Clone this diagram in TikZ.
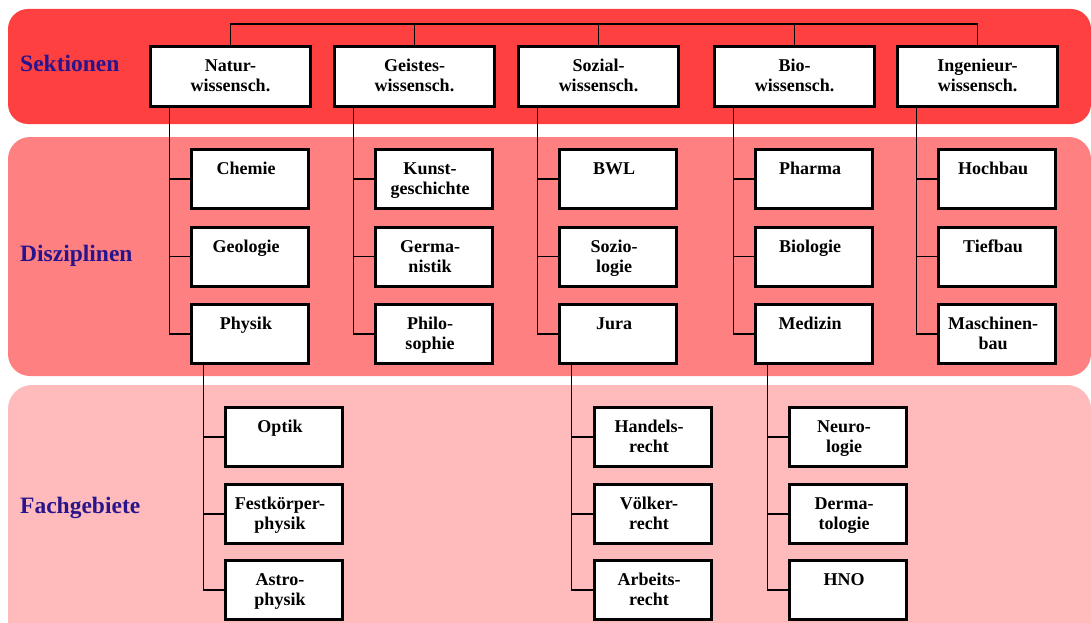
\documentclass[tikz,border=0pt]{standalone}
\usepackage{fontspec}
\setmainfont{Liberation Serif}
\usetikzlibrary{calc}
\definecolor{bandA}{RGB}{255,64,64}
\definecolor{bandB}{RGB}{255,128,128}
\definecolor{bandC}{RGB}{255,187,187}
\definecolor{lvl}{RGB}{40,20,140}
\newcommand{\boxtxt}[3]{\parbox[c][#2pt][t]{#1pt}{\centering\rule{0pt}{25pt}#3}}
\newcommand{\TopTxt}[1]{\boxtxt{160}{60}{#1}}
\newcommand{\SubTxt}[1]{\makebox[117pt][l]{\boxtxt{109}{59}{#1}}}
\begin{document}
\begin{tikzpicture}[x=1pt,y=-1pt,
  lvlabel/.style={font=\fontsize{23.5}{26}\selectfont\bfseries, text=lvl, anchor=base west, inner sep=0pt},
  boxbase/.style={draw=black, line width=3pt, fill=white, inner sep=0pt, outer sep=1.5pt, anchor=north west, font=\fontsize{18}{20}\selectfont\bfseries},
  conn/.style={line width=1.8pt, draw=black}]
\useasboundingbox (0,0) rectangle (1091,623);
% bands
\fill[bandA, rounded corners=20pt] (8,9) rectangle (1091,124);
\fill[bandB, rounded corners=22pt] (8,137) rectangle (1091,376);
\fill[bandC, rounded corners=24pt] (8,385) rectangle (1091,660);
% level labels
\node[lvlabel] (lab1) at (20,72) {Sektionen};
\node[lvlabel] (lab2) at (20,261) {Disziplinen};
\node[lvlabel] (lab3) at (20,513) {Fachgebiete};
% level 1
\node[boxbase] (n1) at (149,45) {\TopTxt{Natur-\\wissensch.}};
\node[boxbase] (n2) at (333,45) {\TopTxt{Geistes-\\wissensch.}};
\node[boxbase] (n3) at (517,45) {\TopTxt{Sozial-\\wissensch.}};
\node[boxbase] (n4) at (713,45) {\TopTxt{Bio-\\wissensch.}};
\node[boxbase] (n5) at (896,45) {\TopTxt{Ingenieur-\\wissensch.}};
% level 2
\node[boxbase] (a1) at (190,148) {\SubTxt{Chemie}};
\node[boxbase] (a2) at (190,225.5) {\SubTxt{Geologie}};
\node[boxbase] (a3) at (190,303) {\SubTxt{Physik}};
\node[boxbase] (b1) at (374,148) {\SubTxt{Kunst-\\geschichte}};
\node[boxbase] (b2) at (374,225.5) {\SubTxt{Germa-\\nistik}};
\node[boxbase] (b3) at (374,303) {\SubTxt{Philo-\\sophie}};
\node[boxbase] (c1) at (558,148) {\SubTxt{BWL}};
\node[boxbase] (c2) at (558,225.5) {\SubTxt{Sozio-\\logie}};
\node[boxbase] (c3) at (558,303) {\SubTxt{Jura}};
\node[boxbase] (d1) at (754,148) {\SubTxt{Pharma}};
\node[boxbase] (d2) at (754,225.5) {\SubTxt{Biologie}};
\node[boxbase] (d3) at (754,303) {\SubTxt{Medizin}};
\node[boxbase] (e1) at (937,148) {\SubTxt{Hochbau}};
\node[boxbase] (e2) at (937,225.5) {\SubTxt{Tiefbau}};
\node[boxbase] (e3) at (937,303) {\SubTxt{Maschinen-\\bau}};
% level 3
\node[boxbase] (p1) at (224,406) {\SubTxt{Optik}};
\node[boxbase] (p2) at (224,483) {\SubTxt{Festkörper-\\physik}};
\node[boxbase] (p3) at (224,559) {\SubTxt{Astro-\\physik}};
\node[boxbase] (j1) at (593,406) {\SubTxt{Handels-\\recht}};
\node[boxbase] (j2) at (593,483) {\SubTxt{Völker-\\recht}};
\node[boxbase] (j3) at (593,559) {\SubTxt{Arbeits-\\recht}};
\node[boxbase] (m1) at (788,406) {\SubTxt{Neuro-\\logie}};
\node[boxbase] (m2) at (788,483) {\SubTxt{Derma-\\tologie}};
\node[boxbase] (m3) at (788,559) {\SubTxt{HNO}};
% top bus
\coordinate (bus) at (0,24);
\draw[conn] (n1.north) |- (bus -| n5.north) -- (n5.north);
\foreach \n in {n2,n3,n4} \draw[conn] (\n.north) -- (\n.north |- bus);
% level 1 -> level 2
\foreach \p/\c in {n1/a,n2/b,n3/c,n4/d,n5/e}{
  \draw[conn] ([xshift=20.5pt]\p.south west) |- (\c3.west);
  \draw[conn] ([xshift=20.5pt]\p.south west) |- (\c2.west);
  \draw[conn] ([xshift=20.5pt]\p.south west) |- (\c1.west);
}
% level 2 -> level 3
\foreach \p/\c in {a3/p,c3/j,d3/m}{
  \draw[conn] ([xshift=13.5pt]\p.south west) |- (\c3.west);
  \draw[conn] ([xshift=13.5pt]\p.south west) |- (\c2.west);
  \draw[conn] ([xshift=13.5pt]\p.south west) |- (\c1.west);
}
\end{tikzpicture}
\end{document}
